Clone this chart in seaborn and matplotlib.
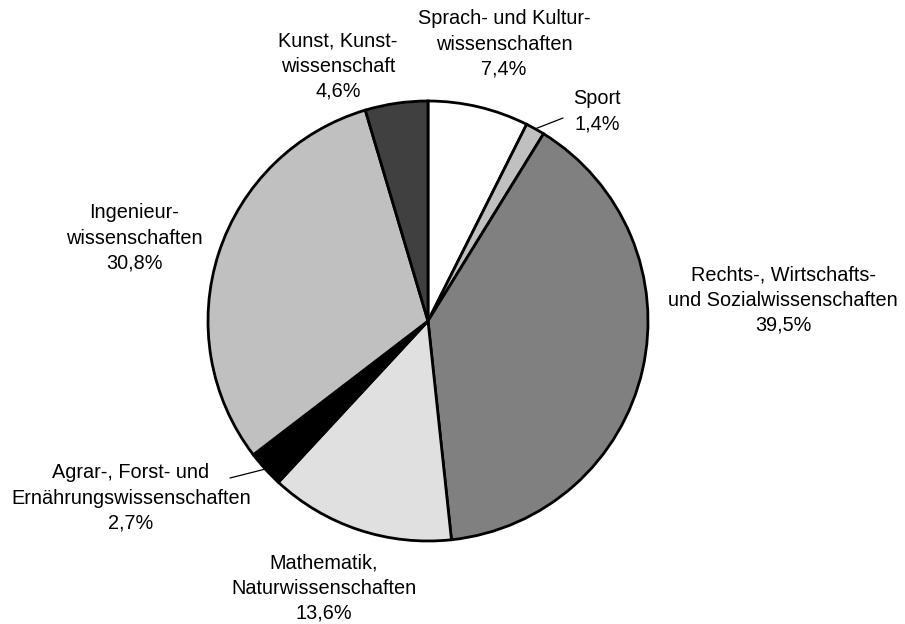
import numpy as np
import matplotlib
matplotlib.use("Agg")
import matplotlib.pyplot as plt
import seaborn as sns

categories = [
    "Sprach- und Kultur-\nwissenschaften",
    "Sport",
    "Rechts-, Wirtschafts-\nund Sozialwissenschaften",
    "Mathematik,\nNaturwissenschaften",
    "Agrar-, Forst- und\nErnährungswissenschaften",
    "Ingenieur-\nwissenschaften",
    "Kunst, Kunst-\nwissenschaft",
]
values = [7.4, 1.4, 39.5, 13.6, 2.7, 30.8, 4.6]
value_labels = ["7,4%", "1,4%", "39,5%", "13,6%", "2,7%", "30,8%", "4,6%"]
colors = ["#ffffff", "#c0c0c0", "#808080", "#e0e0e0", "#000000", "#c0c0c0", "#404040"]

sns.set_theme(style="white")
plt.rcParams["font.family"] = ["Liberation Sans", "DejaVu Sans"]

W, H = 905, 624
CX, CY, R = 428, 321, 220  # pixel layout of pie

fig = plt.figure(figsize=(W / 100, H / 100), dpi=100)
ax = fig.add_axes([0, 0, 1, 1])

ax.pie(values, colors=colors, startangle=90, counterclock=False, radius=1.0,
       center=(0, 0), frame=True,
       wedgeprops=dict(edgecolor="black", linewidth=2.0))
ax.set_xlim(-CX / R, (W - CX) / R)
ax.set_ylim((CY - H) / R, CY / R)
ax.set_aspect("equal")
ax.axis("off")


def px(x, y):
    return ((x - CX) / R, (CY - y) / R)


# label positions in pixels (center of text block)
label_pos = [
    (504, 44),
    (597, 111),
    (783, 300),
    (324, 588),
    (131, 498),
    (134, 238),
    (338, 66),
]

for cat, vl, (x, y) in zip(categories, value_labels, label_pos):
    ax.text(*px(x, y), f"{cat}\n{vl}", ha="center", va="center",
            fontsize=14.3, linespacing=1.42, color="black")

# leader lines
cum = np.cumsum([0] + values)
total = sum(values)
for idx, end in [(1, (563, 118)), (4, (230, 478))]:
    mid = (cum[idx] + values[idx] / 2) / total * 2 * np.pi
    ex, ey = np.sin(mid), np.cos(mid)
    tx, ty = px(*end)
    ax.plot([ex, tx], [ey, ty], color="black", linewidth=0.9)

fig.savefig("out.png", dpi=100, facecolor="white")
